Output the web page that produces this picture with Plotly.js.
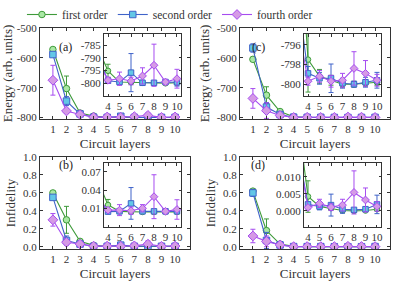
<!DOCTYPE html>
<html><head><meta charset="utf-8">
<script src="https://cdn.plot.ly/plotly-3.0.1.min.js"></script>
<style>html,body{margin:0;padding:0;background:#fff}#chart{width:399px;height:282px}</style>
</head><body><div id="chart"></div>
<script>
const layers = [1,2,3,4,5,6,7,8,9,10];
const seriesNames = ['first order','second order','fourth order'];

// (a) energy, left column
const aFirst     = [-572,-703,-785,-795.1,-799.5,-799.6,-799.8,-799.9,-800,-799.8];
const aFirstErr  = [4,42,8,2.6,0.8,0.6,0.6,0.5,0.5,0.5];
const aSecond    = [-589,-745,-788,-799.0,-799.5,-795.8,-799.8,-799.8,-799.5,-799.6];
const aSecondErr = [5,15,6,1,1,7.5,1,0.8,0.8,1.5];
const aFourth    = [-675,-778,-790,-798.8,-798.2,-799.1,-797.1,-792.9,-799.5,-798.2];
const aFourthErr = [50,8,5,1.2,2.6,1.5,3.2,8.3,1,3.7];

// (c) energy, right column
const cFirst     = [-605,-725,-780,-797.5,-799.2,-799.6,-800,-800,-799.9,-799.8];
const cFirstErr  = [5,28,5,3.3,0.7,0.5,0.3,0.3,0.3,0.3];
const cSecond    = [-567,-765,-790,-798.9,-799.4,-799.4,-799.9,-800,-799.8,-799.6];
const cSecondErr = [14,15,4,0.7,0.6,1.45,0.5,0.3,0.5,0.8];
const cFourth    = [-736,-777,-793,-799.7,-799.2,-799.7,-799.6,-798.4,-798.9,-799.6];
const cFourthErr = [33,26,3,0.4,0.6,0.6,0.7,1.7,1.3,0.6];

// (b) infidelity, left column
const bFirst     = [0.60,0.30,0.06,0.0155,0.005,0.004,0.004,0.004,0.004,0.004];
const bFirstErr  = [0.01,0.15,0.015,0.009,0.002,0.002,0.002,0.002,0.002,0.002];
const bSecond    = [0.55,0.07,0.03,0.0045,0.005,0.018,0.005,0.005,0.005,0.005];
const bSecondErr = [0.02,0.05,0.01,0.002,0.002,0.026,0.003,0.002,0.002,0.003];
const bFourth    = [0.30,0.05,0.03,0.007,0.007,0.006,0.01,0.029,0.005,0.008];
const bFourthErr = [0.07,0.03,0.01,0.003,0.009,0.006,0.006,0.036,0.003,0.016];

// (d) infidelity, right column
const dFirst     = [0.62,0.18,0.03,0.0042,0.0013,0.0008,0.0001,0.0,0.0001,0.0005];
const dFirstErr  = [0.02,0.13,0.01,0.0046,0.0008,0.0006,0.0004,0.0003,0.0003,0.0004];
const dSecond    = [0.60,0.07,0.02,0.0019,0.0013,0.0017,0.0005,0.0003,0.0005,0.0019];
const dSecondErr = [0.04,0.09,0.01,0.0008,0.001,0.0032,0.0012,0.0004,0.0005,0.0027];
const dFourth    = [0.12,0.06,0.02,0.001,0.0022,0.0011,0.0017,0.0054,0.0032,0.0013];
const dFourthErr = [0.075,0.06,0.01,0.0006,0.0012,0.001,0.0017,0.0063,0.0035,0.0014];

// tick labels
const energyTicks = [-800,-700,-600,-500];
const energyTickText = ['-800','-700','-600','-500'];
const infTicks = [0,0.2,0.4,0.6,0.8,1.0];
const infTickText = ['0.0','0.2','0.4','0.6','0.8','1.0'];
const insetXTicks = [4,5,6,7,8,9,10];
const insetATicks = [-800,-795,-790,-785];
const insetATickText = ['-800','-795','-790','-785'];
const insetCTicks = [-800,-798,-796];
const insetCTickText = ['-800','-798','-796'];
const insetBTicks = [0.01,0.04,0.07];
const insetBTickText = ['0.01','0.04','0.07'];
const insetDTicks = [0,0.005,0.01];
const insetDTickText = ['0.000','0.005','0.010'];

const lineColors = ['#3e9a3a','#3f63c9','#a64cf0'];
const fillColors = ['#a9e8a4','#62c7e6','#d59ae6'];
const symbols = ['circle','square','diamond'];
const FAM = 'Liberation Serif, Times New Roman, serif';

const panels = [
  {main:['x','y'],  inset:['x2','y2'], data:[[aFirst,aFirstErr],[aSecond,aSecondErr],[aFourth,aFourthErr]], legend:true},
  {main:['x3','y3'],inset:['x4','y4'], data:[[cFirst,cFirstErr],[cSecond,cSecondErr],[cFourth,cFourthErr]]},
  {main:['x5','y5'],inset:['x6','y6'], data:[[bFirst,bFirstErr],[bSecond,bSecondErr],[bFourth,bFourthErr]]},
  {main:['x7','y7'],inset:['x8','y8'], data:[[dFirst,dFirstErr],[dSecond,dSecondErr],[dFourth,dFourthErr]]}
];

const traces = [];
function addTrace(p, axes, isInset){
  p.data.forEach((d,i)=>{
    traces.push({
      x: layers, y: d[0], type:'scatter', mode:'lines+markers',
      xaxis: axes[0], yaxis: axes[1],
      name: seriesNames[i], legendgroup: seriesNames[i],
      showlegend: !!(p.legend && !isInset),
      line:{color:lineColors[i], width:1.1},
      marker:{symbol:symbols[i], size: isInset?(i==2?6:5.5):(i==2?7.5:6.5), color:fillColors[i], line:{color:lineColors[i], width:1}},
      error_y:{type:'data', array:d[1], visible:true, color:lineColors[i], thickness:1, width:2.5}
    });
  });
}
panels.forEach(p=>addTrace(p,p.main,false));
panels.forEach(p=>addTrace(p,p.inset,true));

const W=399,H=282;
const fx = (a,b)=>[a/W,b/W];
const fy = (top,bot)=>[(H-bot)/H,(H-top)/H];
const tickFont = {family:FAM, size:11, color:'#333'};
const titleFont = {family:FAM, size:13, color:'#333'};

function mainX(dom, anchor, title){
  return {domain:dom, anchor:anchor, range:[0.05,11.1], tickvals:layers, ticks:'inside', ticklen:3,
    tickcolor:'#333', showline:true, linecolor:'#333', linewidth:1, mirror:'ticks', zeroline:false, showgrid:false,
    tickfont:tickFont, title:{text:title, font:titleFont, standoff:4}};
}
function mainY(dom, anchor, range, tv, tt, title){
  return {domain:dom, anchor:anchor, range:range, tickvals:tv, ticktext:tt, ticks:'inside', ticklen:3,
    tickcolor:'#333', showline:true, linecolor:'#333', linewidth:1, mirror:'ticks', zeroline:false, showgrid:false,
    tickfont:tickFont, title:{text:title, font:titleFont, standoff:4}};
}
function insetX(dom, anchor){
  return {domain:dom, anchor:anchor, range:[3.65,10.35], tickvals:insetXTicks, ticks:'inside', ticklen:2.5,
    tickcolor:'#333', showline:true, linecolor:'#333', linewidth:1, mirror:'ticks', zeroline:false, showgrid:false,
    tickfont:tickFont};
}
function insetY(dom, anchor, range, tv, tt){
  return {domain:dom, anchor:anchor, range:range, tickvals:tv, ticktext:tt, ticks:'inside', ticklen:2.5,
    tickcolor:'#333', showline:true, linecolor:'#333', linewidth:1, mirror:'ticks', zeroline:false, showgrid:false,
    tickfont:tickFont};
}

const colL = fx(40,190), colR = fx(240,390);
const rowT = fy(28,119), rowB = fy(157,249);
const inL = fx(104,181), inR = fx(304,381);
const inT = fy(34,96), inB = fy(163,227);
const annFont = {family:FAM, size:12, color:'#222'};

const layout = {
  width:W, height:H, margin:{l:0,r:0,t:0,b:0},
  paper_bgcolor:'#fff', plot_bgcolor:'#fff',
  font:{family:FAM, color:'#333'},
  showlegend:true,
  legend:{orientation:'h', x:0.055, y:1.0, xanchor:'left', yanchor:'top', font:{family:FAM, size:11.5, color:'#333'},
    bgcolor:'rgba(0,0,0,0)', itemwidth:30, tracegroupgap:0},
  xaxis: mainX(colL,'y','Circuit layers'),
  yaxis: mainY(rowT,'x',[-805,-500],energyTicks,energyTickText,'Energy (arb. units)'),
  xaxis2: insetX(inL,'y2'),
  yaxis2: insetY(inT,'x2',[-805,-780.6],insetATicks,insetATickText),
  xaxis3: mainX(colR,'y3','Circuit layers'),
  yaxis3: mainY(rowT,'x3',[-805,-500],energyTicks,energyTickText,'Energy (arb. units)'),
  xaxis4: insetX(inR,'y4'),
  yaxis4: insetY(inT,'x4',[-801.2,-794.9],insetCTicks,insetCTickText),
  xaxis5: mainX(colL,'y5','Circuit layers'),
  yaxis5: mainY(rowB,'x5',[-0.025,1.0],infTicks,infTickText,'Infidelity'),
  xaxis6: insetX(inL,'y6'),
  yaxis6: insetY(inB,'x6',[-0.0207,0.0843],insetBTicks,insetBTickText),
  xaxis7: mainX(colR,'y7','Circuit layers'),
  yaxis7: mainY(rowB,'x7',[-0.025,1.0],infTicks,infTickText,'Infidelity'),
  xaxis8: insetX(inR,'y8'),
  yaxis8: insetY(inB,'x8',[-0.0047,0.014],insetDTicks,insetDTickText),
  annotations:[
    {text:'(a)', x:57/W, y:(H-38)/H, xref:'paper', yref:'paper', showarrow:false, font:annFont},
    {text:'(c)', x:258/W, y:(H-38)/H, xref:'paper', yref:'paper', showarrow:false, font:annFont},
    {text:'(b)', x:57/W, y:(H-165)/H, xref:'paper', yref:'paper', showarrow:false, font:annFont},
    {text:'(d)', x:258/W, y:(H-165)/H, xref:'paper', yref:'paper', showarrow:false, font:annFont}
  ]
};

Plotly.newPlot('chart', traces, layout, {staticPlot:true, displayModeBar:false});
</script></body></html>
